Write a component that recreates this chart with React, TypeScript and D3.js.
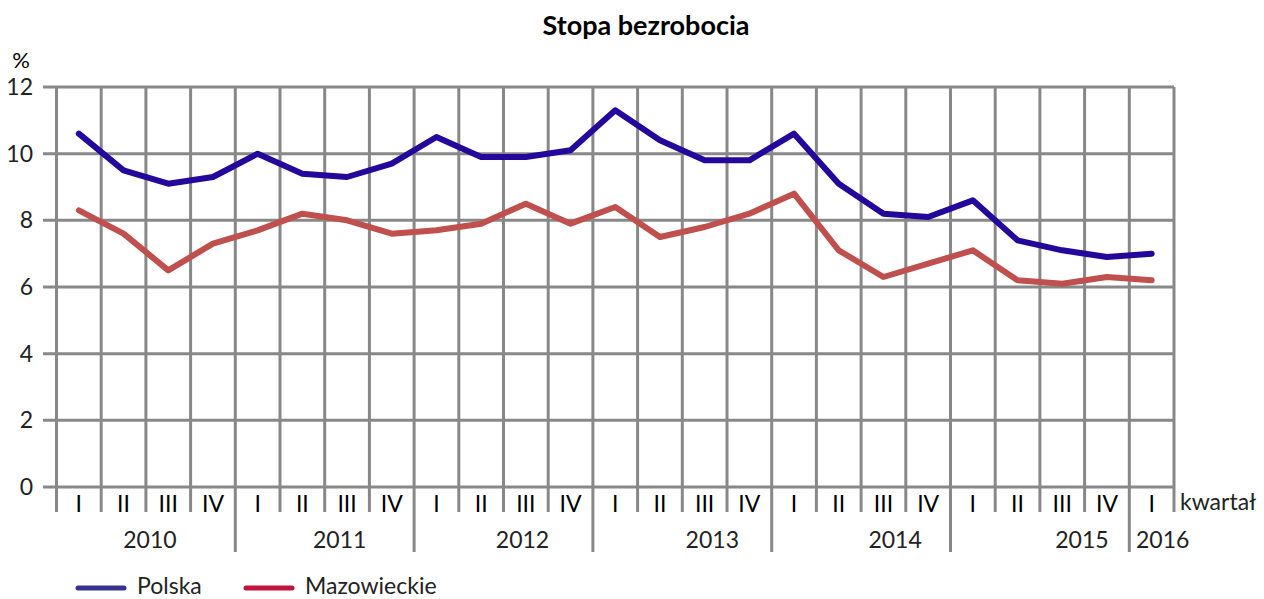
import React from 'react';
import * as d3 from 'd3';

const years = ['2010', '2011', '2012', '2013', '2014', '2015', '2016'];
const quarterNames = ['I', 'II', 'III', 'IV'];
const quarters: { year: string; q: string }[] = [];
years.forEach(y => {
  const n = y === '2016' ? 1 : 4;
  for (let i = 0; i < n; i++) quarters.push({ year: y, q: quarterNames[i] });
});

const polska = [10.6, 9.5, 9.1, 9.3, 10.0, 9.4, 9.3, 9.7, 10.5, 9.9, 9.9, 10.1, 11.3, 10.4, 9.8, 9.8, 10.6, 9.1, 8.2, 8.1, 8.6, 7.4, 7.1, 6.9, 7.0];
const mazowieckie = [8.3, 7.6, 6.5, 7.3, 7.7, 8.2, 8.0, 7.6, 7.7, 7.9, 8.5, 7.9, 8.4, 7.5, 7.8, 8.2, 8.8, 7.1, 6.3, 6.7, 7.1, 6.2, 6.1, 6.3, 6.2];
const yTicks = [0, 2, 4, 6, 8, 10, 12];

// Excel pushes the year labels a bit to the right of their group
const yearLabelShift = [4, 15, 19, 30, 34, 42, 11];

const W = 1264, H = 599;
const left = 56.5, right = 1174, top = 87, bottom = 487;
const font = 'Lato, "Open Sans", sans-serif';
const grid = '#888888';

export default function App() {
  const keys = quarters.map((_, i) => String(i));
  const x = d3.scaleBand().domain(keys).range([left, right]).padding(0);
  const y = d3.scaleLinear().domain([0, 12]).range([bottom, top]);
  const cx = (i: number) => (x(String(i)) as number) + x.bandwidth() / 2;

  const line = d3.line<number>().x((_, i) => cx(i)).y(d => y(d));

  const edges = d3.range(quarters.length + 1).map(i => left + i * x.bandwidth());
  const yearStart = years.map(yr => quarters.findIndex(q => q.year === yr));

  return (
    <svg width={W} height={H} style={{ display: 'block', position: 'absolute', left: 0, top: 0 }}>
      <text x={646} y={35} textAnchor="middle" fontFamily={font} fontWeight="bold" fontSize={27} fill="#000">
        Stopa bezrobocia
      </text>
      <text x={21} y={68} textAnchor="middle" fontFamily={font} fontSize={22} fill="#000">%</text>

      {yTicks.map(t => (
        <g key={t}>
          <line x1={43} x2={right} y1={y(t)} y2={y(t)} stroke={grid} strokeWidth={3} />
          <text x={33} y={y(t) + 8} textAnchor="end" fontFamily={font} fontSize={23} fill="#222">{t}</text>
        </g>
      ))}

      {edges.map((ex, i) => {
        const isYear = yearStart.includes(i) && i > 0 && i < quarters.length;
        return (
          <line key={i} x1={ex} x2={ex} y1={top} y2={isYear ? 552 : 512} stroke={grid} strokeWidth={3} />
        );
      })}

      {quarters.map((q, i) => (
        <text key={i} x={cx(i)} y={512} textAnchor="middle" fontFamily={font} fontSize={23} fill="#000">{q.q}</text>
      ))}
      <text x={1180} y={510} fontFamily={font} fontSize={23} fill="#222">kwartał</text>

      {years.map((yr, i) => {
        const s = yearStart[i];
        const e = i + 1 < years.length ? yearStart[i + 1] : quarters.length;
        const mid = (edges[s] + edges[e]) / 2 + yearLabelShift[i];
        return (
          <text key={yr} x={mid} y={548} textAnchor="middle" fontFamily={font} fontSize={23} fill="#222">{yr}</text>
        );
      })}

      <path d={line(mazowieckie) || ''} fill="none" stroke="#c0504d" strokeWidth={6} strokeLinejoin="round" strokeLinecap="round" />
      <path d={line(polska) || ''} fill="none" stroke="#24079b" strokeWidth={6} strokeLinejoin="round" strokeLinecap="round" />

      <g fontFamily={font} fontSize={23} fill="#222">
        <line x1={78} x2={124} y1={588} y2={588} stroke="#37338f" strokeWidth={5} strokeLinecap="round" />
        <text x={137} y={594}>Polska</text>
        <line x1={246} x2={292} y1={588} y2={588} stroke="#c0143c" strokeWidth={5} strokeLinecap="round" />
        <text x={305} y={594}>Mazowieckie</text>
      </g>
    </svg>
  );
}
